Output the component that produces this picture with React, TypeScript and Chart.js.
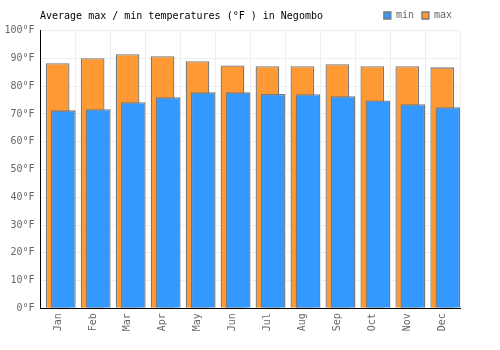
import React, { useEffect, useRef } from 'react';
import { Chart, registerables } from 'chart.js';

Chart.register(...registerables);

const titleText = 'Average max / min temperatures (°F ) in Negombo';
const months = ['Jan', 'Feb', 'Mar', 'Apr', 'May', 'Jun', 'Jul', 'Aug', 'Sep', 'Oct', 'Nov', 'Dec'];
const minTemps = [71.3, 71.7, 74.2, 76.0, 77.8, 77.8, 77.2, 77.1, 76.4, 74.9, 73.5, 72.4];
const maxTemps = [88.3, 90.1, 91.5, 90.8, 89.0, 87.5, 87.2, 87.2, 87.9, 87.2, 87.2, 86.8];
const yMin = 0;
const yMax = 100;
const yStep = 10;
const tickSuffix = '°F';

const FONT = '"DejaVu Sans Mono", monospace';
const BAR_BORDER = 'rgb(120,120,120)';

const titlePlugin = {
  id: 'cornerTitle',
  afterDraw(chart: any) {
    const ctx = chart.ctx;
    ctx.save();
    ctx.font = `10px ${FONT}`;
    ctx.fillStyle = '#000';
    ctx.textBaseline = 'middle';
    ctx.textAlign = 'left';
    ctx.fillText(titleText, chart.chartArea.left - 0.5, 16);
    ctx.restore();
  },
};

const legendFitPlugin = {
  id: 'legendFit',
  beforeLayout(chart: any) {
    const lg = chart.legend;
    if (lg && !lg._patchedFit) {
      const orig = lg.fit.bind(lg);
      lg.fit = function () {
        orig();
        this.height = 28.2;
      };
      lg._patchedFit = true;
    }
  },
};

// draw "max" (dataset 0) first, then "min" (dataset 1) on top of it
const drawOrderPlugin = {
  id: 'drawOrder',
  beforeDatasetsDraw(chart: any) {
    const a = chart.chartArea;
    const ctx = chart.ctx;
    ctx.save();
    ctx.beginPath();
    ctx.rect(a.left, a.top, a.right - a.left, a.bottom - a.top);
    ctx.clip();
    [0, 1].forEach((i) => {
      const meta = chart.getDatasetMeta(i);
      if (meta && chart.isDatasetVisible(i)) meta.controller.draw();
    });
    ctx.restore();
    return false;
  },
};

export default function App() {
  const ref = useRef<HTMLCanvasElement>(null);
  useEffect(() => {
    if (!ref.current) return;
    const chart = new Chart(ref.current, {
      type: 'bar',
      data: {
        labels: months,
        datasets: [
          {
            label: 'max',
            data: maxTemps,
            backgroundColor: 'rgb(255,153,51)',
            borderColor: BAR_BORDER,
            borderWidth: 1.3,
            categoryPercentage: 0.0343,
            barPercentage: 39.5,
          },
          {
            label: 'min',
            data: minTemps,
            backgroundColor: 'rgb(51,153,255)',
            borderColor: BAR_BORDER,
            borderWidth: 1.3,
            categoryPercentage: 0.611,
            barPercentage: 2.31,
          },
        ],
      },
      options: {
        animation: false,
        responsive: true,
        maintainAspectRatio: false,
        layout: { padding: { left: 4, right: 40, top: 2.5, bottom: 19 } },
        plugins: {
          title: { display: false },
          tooltip: { enabled: false },
          legend: {
            display: true,
            position: 'top',
            align: 'end',
            labels: {
              boxWidth: 7,
              boxHeight: 7,
              padding: 8,
              color: '#666',
              font: { family: FONT, size: 10 },
              sort: (a: any, b: any) => b.datasetIndex - a.datasetIndex,
            },
          },
        },
        scales: {
          x: {
            type: 'category',
            offset: true,
            afterFit: (s: any) => {
              s.height = 22.7;
            },
            grid: { color: '#eeeeee', drawTicks: false, offset: true },
            border: { color: '#000', width: 1 },
            ticks: {
              color: '#666',
              font: { family: FONT, size: 10 },
              minRotation: 90,
              maxRotation: 90,
              padding: 5,
            },
          },
          y: {
            min: yMin,
            max: yMax,
            afterFit: (s: any) => {
              s.width = 36.5;
            },
            grid: { color: '#eeeeee', drawTicks: false },
            border: { color: '#000', width: 1 },
            ticks: {
              stepSize: yStep,
              color: '#666',
              padding: 6,
              font: { family: FONT, size: 10 },
              callback: (v: any) => `${v}${tickSuffix}`,
            },
          },
        },
      },
      plugins: [titlePlugin, legendFitPlugin, drawOrderPlugin],
    } as any);
    return () => chart.destroy();
  }, []);
  return (
    <div style={{ position: 'absolute', left: 0, top: 0, width: 500, height: 350 }}>
      <canvas ref={ref} />
    </div>
  );
}
